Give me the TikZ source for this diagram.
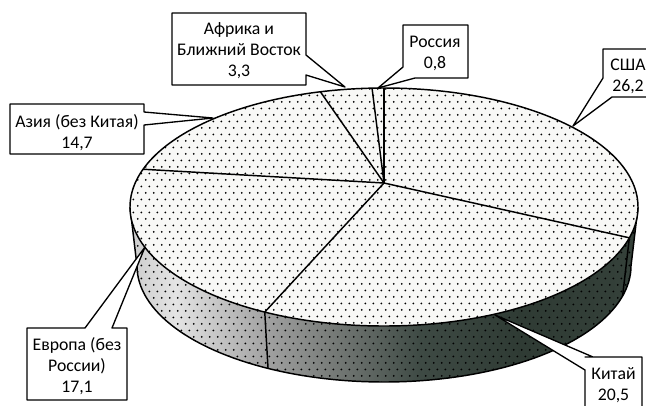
\documentclass[tikz,border=0pt]{standalone}
\usepackage{fontspec}
\setmainfont{Carlito}
\usetikzlibrary{patterns}
\pgfdeclarepatternformonly{piedots}{\pgfqpoint{0pt}{0pt}}{\pgfqpoint{6pt}{10pt}}{\pgfqpoint{6pt}{10pt}}{%
  \pgfpathcircle{\pgfqpoint{1.5pt}{2.5pt}}{0.8pt}%
  \pgfpathcircle{\pgfqpoint{4.5pt}{7.5pt}}{0.8pt}%
  \pgfusepath{fill}}
\definecolor{topfill}{HTML}{F8F8F6}
\definecolor{sA}{HTML}{C8C8C8}
\definecolor{sB}{HTML}{E4E4E4}
\definecolor{sC}{HTML}{A2A2A2}
\definecolor{sD}{HTML}{787C79}
\definecolor{sE}{HTML}{3E4A44}
\definecolor{sF}{HTML}{2F3B34}
\definecolor{sG}{HTML}{35413A}
\begin{document}
\begin{tikzpicture}[x=0.75pt,y=-0.75pt,line join=round,
  outline/.style={draw=black,line width=1.1pt},
  callout/.style={draw=black,fill=white,line width=1pt},
  lbl/.style={font=\fontsize{13.3pt}{15.75pt}\selectfont,align=center,inner sep=0pt},
  dots/.style={pattern=piedots,pattern color=black}]
\useasboundingbox (0,0) rectangle (646,405);

% ---------- side of the pie ----------
\begin{scope}
  \clip plot[domain=180:360,samples=90] ({384+254*cos(\x)},{207-119*sin(\x)})
     -- plot[domain=360:180,samples=90] ({384+247*cos(\x)},{266-116*sin(\x)}) -- cycle;
  \shade[left color=sA,right color=sB] (120,190) rectangle (176,400);
  \shade[left color=sB,right color=sC] (175,190) rectangle (266,400);
  \shade[left color=sC,right color=sD] (265,190) rectangle (331,400);
  \shade[left color=sD,right color=sE] (330,190) rectangle (421,400);
  \shade[left color=sE,right color=sF] (420,190) rectangle (521,400);
  \shade[left color=sF,right color=sG] (520,190) rectangle (646,400);
  \fill[dots] (120,190) rectangle (646,400);
\end{scope}
% side edges
\draw[outline] ({384+254*cos(242)},{207-119*sin(242)}) -- ({384+247*cos(242)},{266-116*sin(242)});
\draw[outline] ({384+254*cos(345)},{207-119*sin(345)}) -- ({384+247*cos(345)},{266-116*sin(345)});
\draw[outline] (130,207) -- (137,266)
  plot[domain=180:360,samples=90] ({384+247*cos(\x)},{266-116*sin(\x)}) -- (638,207);

% ---------- top of the pie ----------
\fill[topfill] (384,207) ellipse [x radius=254,y radius=119];
\fill[dots] (384,207) ellipse [x radius=254,y radius=119];
\coordinate (apex) at (384,183);
\foreach \a in {90,92.7,104.5,161.5,242,345}
  \draw[outline] (apex) -- ({384+254*cos(\a)},{207-119*sin(\a)});
\draw[outline] (384,207) ellipse [x radius=254,y radius=119];

% ---------- callouts ----------
\draw[callout] (172,13) -- (306,13) -- (306,55) -- (345,87) -- (306,75) -- (306,85) -- (172,85) -- cycle;
\node[lbl] (africa) at (239,51) {Африка и\\Ближний Восток\\3,3};

\draw[callout] (403,25) -- (468,25) -- (468,78) -- (415,78) -- (378,88) -- (403,67) -- cycle;
\node[lbl] (russia) at (435,53) {Россия\\0,8};

\draw[callout] (603,49) -- (656,49) -- (656,97) -- (612,97) -- (573,126) -- (603,78) -- cycle;
\node[lbl] (usa) at (628,76) {США\\26,2};

\draw[callout] (10,104) -- (144,104) -- (144,112) -- (213,118) -- (144,125) -- (144,154) -- (10,154) -- cycle;
\node[lbl] (asia) at (77,132.5) {Азия (без Китая)\\14,7};

\draw[callout] (27,328) -- (85,328) -- (145,247) -- (112,328) -- (127,328) -- (127,400) -- (27,400) -- cycle;
\node[lbl] (europe) at (77,366) {Европа (без\\России)\\17,1};

\draw[callout] (585,357) -- (642,357) -- (642,410) -- (585,410) -- (585,370) -- (495,315) -- (593,357) -- cycle;
\node[lbl] (china) at (613.5,385.5) {Китай\\20,5};
\end{tikzpicture}
\end{document}
